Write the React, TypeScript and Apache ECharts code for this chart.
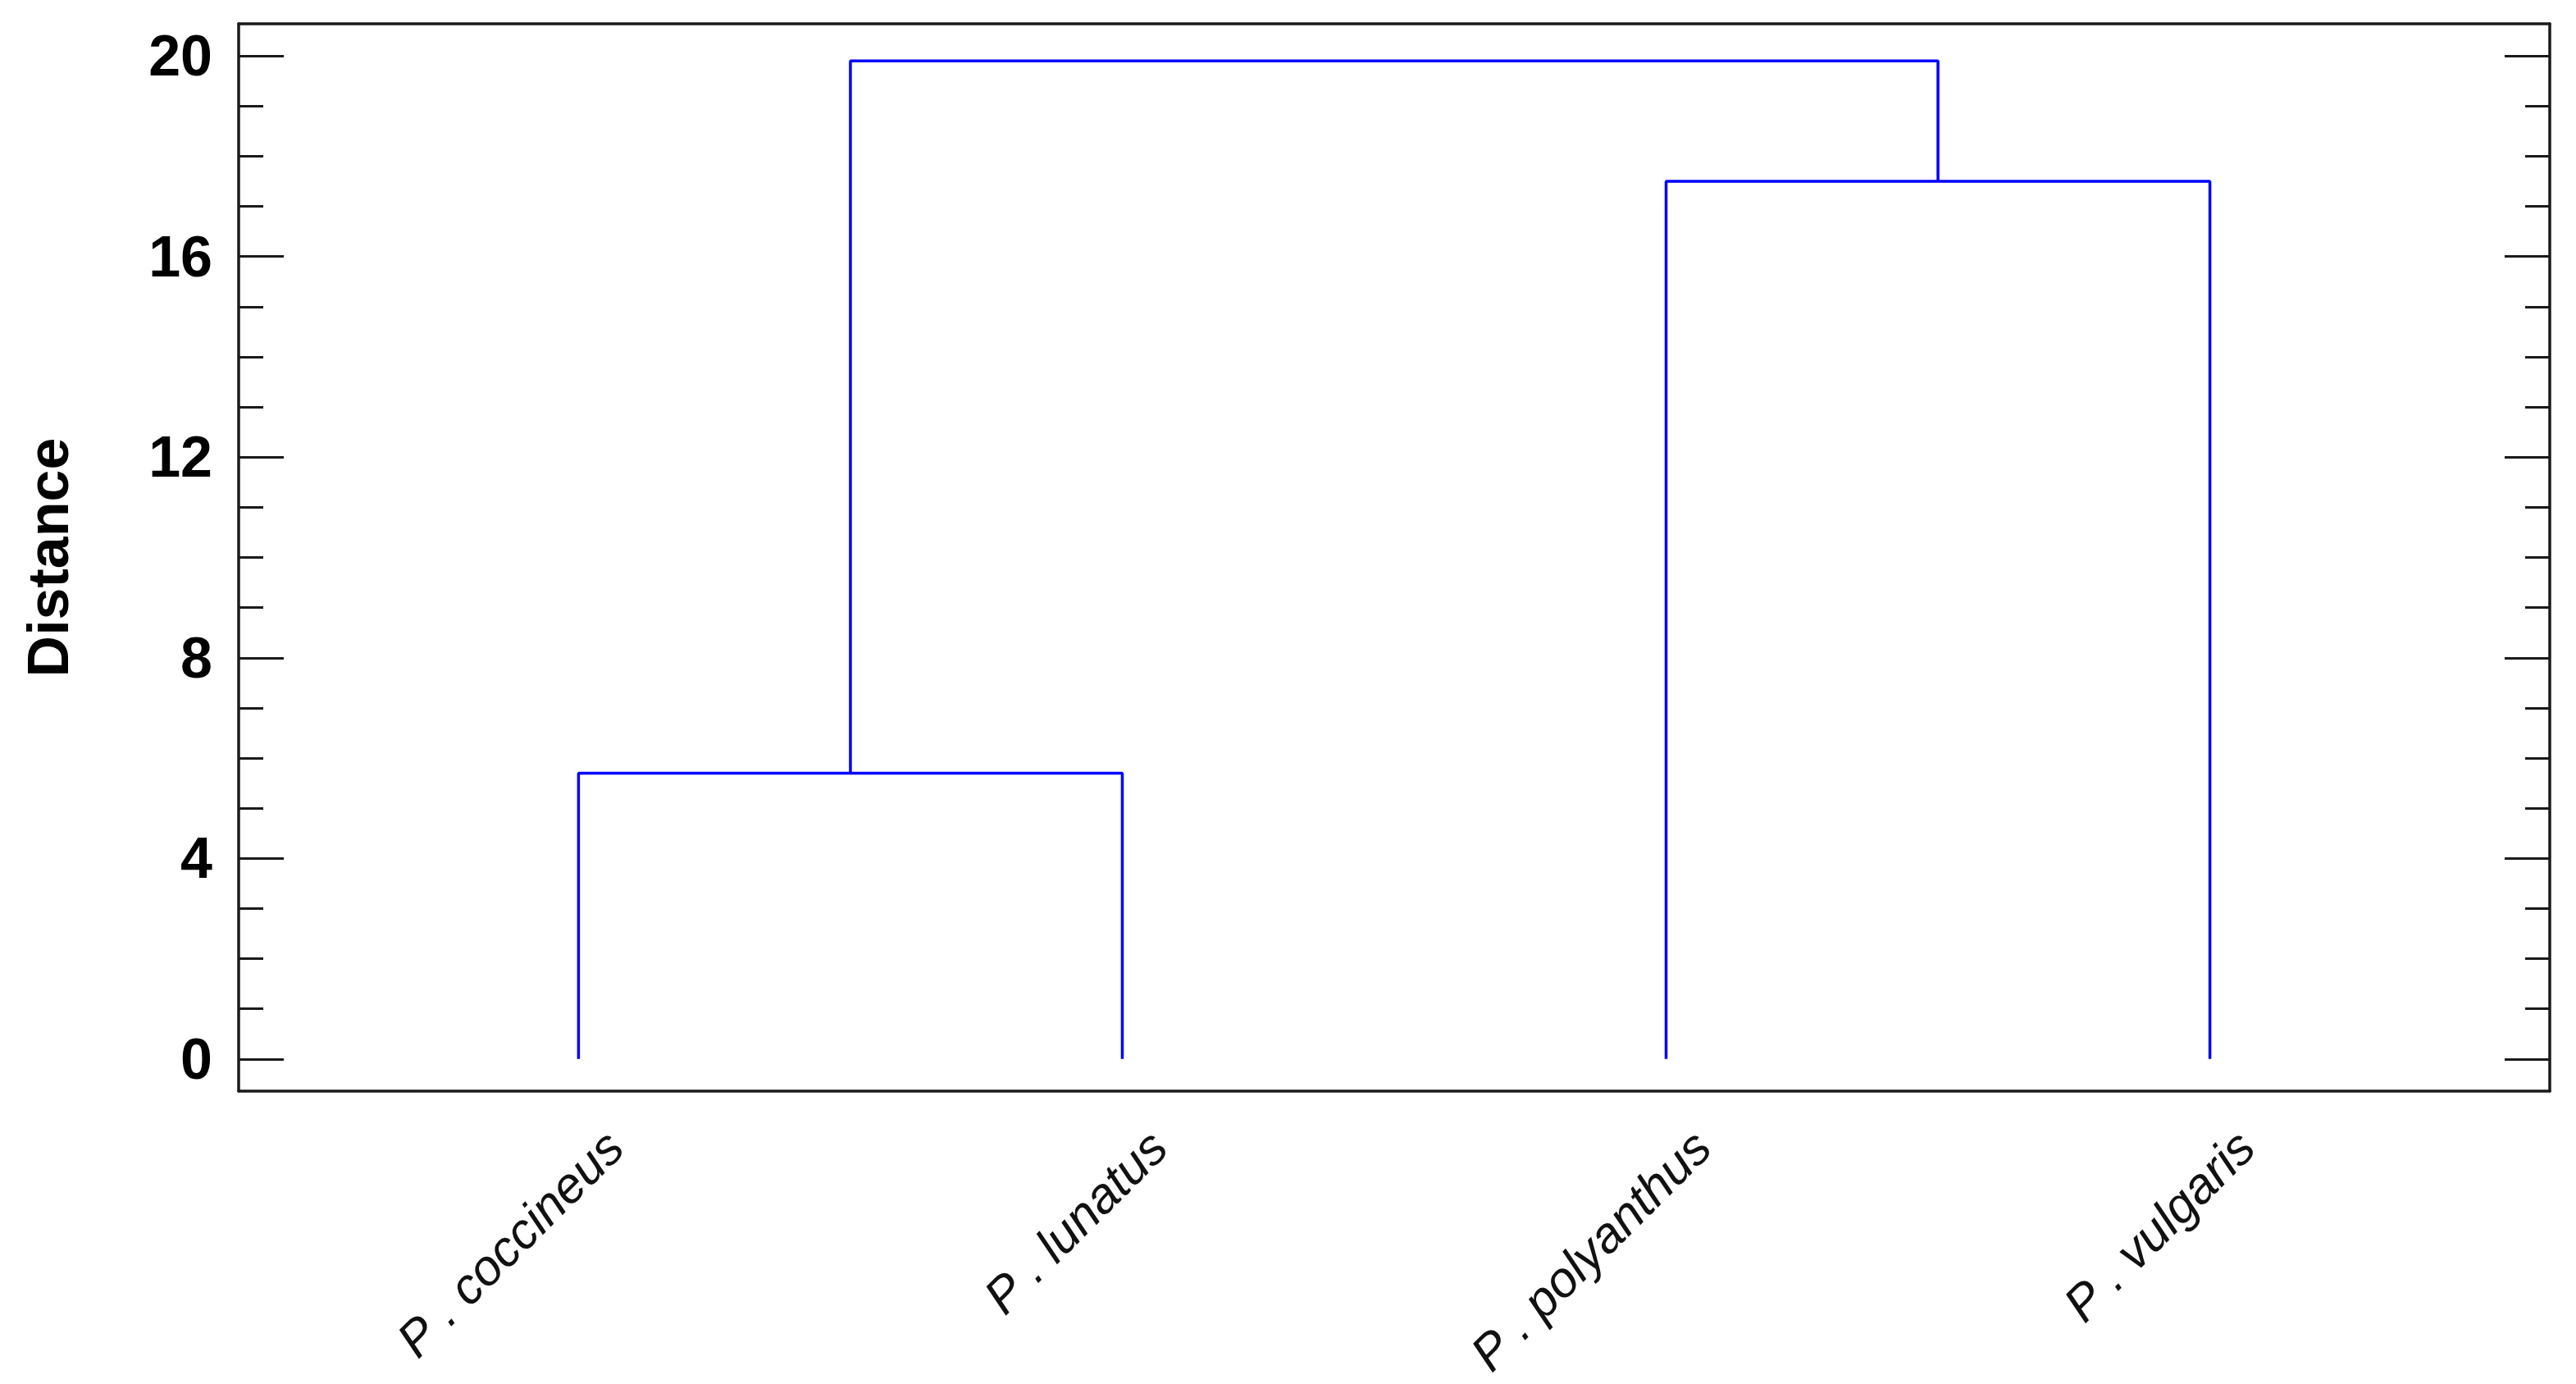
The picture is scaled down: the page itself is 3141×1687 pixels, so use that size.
import React, { useEffect, useRef } from "react";
import * as echarts from "echarts";

// ---- data ----
const leafNames = ["P . coccineus", "P . lunatus", "P . polyanthus", "P . vulgaris"];
const leafPositions = [1, 2, 3, 4];
// merges: [left node, right node, distance]; nodes 0-3 = leaves, 4+ = merges in order
const mergeLeft = [0, 2, 4];
const mergeRight = [1, 3, 5];
const mergeHeights = [5.7, 17.5, 19.9];
const majorTicks = [0, 4, 8, 12, 16, 20];
const minorTicks = [1, 2, 3, 5, 6, 7, 9, 10, 11, 13, 14, 15, 17, 18, 19];

const Y_MIN = -0.64;
const Y_MAX = 20.64;
const X_MIN = 0.375;
const X_MAX = 4.625;
const FONT = "'Liberation Sans', Arial, Helvetica, sans-serif";
const FRAME = "#1a1a1a";
const FRAME_W = 3.5;

export default function App() {
  const ref = useRef<HTMLDivElement>(null);

  useEffect(() => {
    if (!ref.current) return;
    const chart = echarts.init(ref.current, undefined, { renderer: "svg" });

    const nodeX: number[] = [...leafPositions];
    const nodeH: number[] = leafPositions.map(() => 0);
    const series: any[] = [];
    mergeHeights.forEach((h, i) => {
      const l = mergeLeft[i];
      const r = mergeRight[i];
      series.push({
        type: "line",
        xAxisIndex: 0,
        yAxisIndex: 0,
        showSymbol: false,
        symbol: "none",
        silent: true,
        lineStyle: { color: "#0000ff", width: 3.5 },
        data: [
          [nodeX[l], nodeH[l]],
          [nodeX[l], h],
          [nodeX[r], h],
          [nodeX[r], nodeH[r]],
        ],
      });
      nodeX.push((nodeX[l] + nodeX[r]) / 2);
      nodeH.push(h);
    });

    const yBase = {
      type: "value",
      min: Y_MIN,
      max: Y_MAX,
      splitLine: { show: false },
    };
    const xBase = {
      type: "value",
      min: X_MIN,
      max: X_MAX,
      axisLine: { show: true, onZero: false, lineStyle: { color: FRAME, width: FRAME_W } },
      axisTick: { show: false },
      axisLabel: { show: false },
      splitLine: { show: false },
    };

    chart.setOption({
      animation: false,
      backgroundColor: "#ffffff",
      grid: { left: 291, top: 29, right: 32, bottom: 357, containLabel: false },
      xAxis: [
        { ...xBase, position: "bottom" },
        { ...xBase, position: "top" },
      ],
      yAxis: [
        {
          ...yBase,
          position: "left",
          name: "Distance",
          nameLocation: "middle",
          nameGap: 232,
          nameRotate: 90,
          nameTextStyle: {
            fontFamily: FONT,
            fontWeight: "bold",
            fontSize: 70,
            color: "#000",
            verticalAlign: "middle",
          },
          axisLine: { show: true, onZero: false, lineStyle: { color: FRAME, width: FRAME_W } },
          axisTick: {
            show: true,
            inside: true,
            length: 55,
            customValues: majorTicks,
            lineStyle: { color: FRAME, width: 3 },
          },
          axisLabel: {
            show: true,
            customValues: majorTicks,
            margin: 32,
            fontFamily: FONT,
            fontWeight: "bold",
            fontSize: 70,
            color: "#000",
          },
        },
        {
          ...yBase,
          position: "left",
          axisLine: { show: false, onZero: false },
          axisTick: {
            show: true,
            inside: true,
            length: 30,
            customValues: minorTicks,
            lineStyle: { color: FRAME, width: 3 },
          },
          axisLabel: { show: false },
        },
        {
          ...yBase,
          position: "right",
          axisLine: { show: true, onZero: false, lineStyle: { color: FRAME, width: FRAME_W } },
          axisTick: {
            show: true,
            inside: true,
            length: 55,
            customValues: majorTicks,
            lineStyle: { color: FRAME, width: 3 },
          },
          axisLabel: { show: false },
        },
        {
          ...yBase,
          position: "right",
          axisLine: { show: false, onZero: false },
          axisTick: {
            show: true,
            inside: true,
            length: 30,
            customValues: minorTicks,
            lineStyle: { color: FRAME, width: 3 },
          },
          axisLabel: { show: false },
        },
      ],
      series,
    });

    const graphics = leafNames.map((name, i) => {
      const p = chart.convertToPixel({ xAxisIndex: 0, yAxisIndex: 0 }, [leafPositions[i], Y_MIN]) as number[];
      return {
        type: "text",
        x: p[0] + 44,
        y: p[1] + 58,
        rotation: Math.PI / 4,
        silent: true,
        style: {
          text: name,
          fontFamily: FONT,
          fontStyle: "italic",
          fontSize: 61,
          fill: "#111",
          align: "right",
          verticalAlign: "middle",
        },
      };
    });
    chart.setOption({ graphic: graphics });

    return () => chart.dispose();
  }, []);

  return (
    <div
      ref={ref}
      style={{ position: "absolute", left: 0, top: 0, width: 3141, height: 1687 }}
    />
  );
}
